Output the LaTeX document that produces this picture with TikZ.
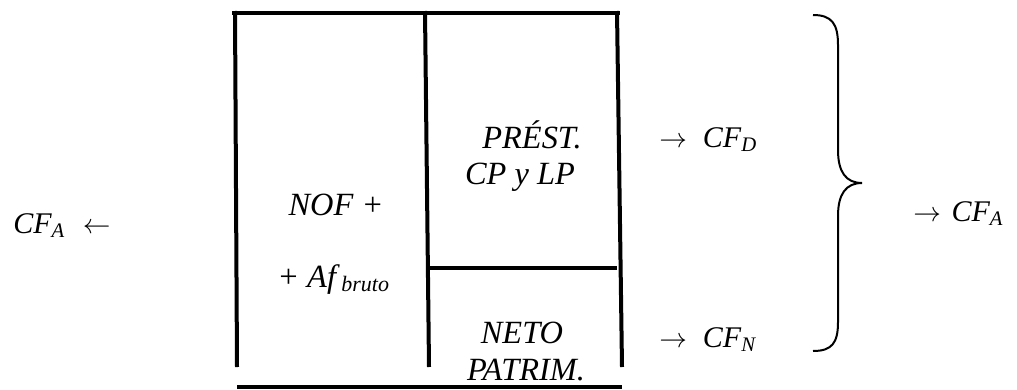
\documentclass[tikz,border=0pt]{standalone}
\usepackage{fontspec}
\setmainfont{Liberation Serif}[ItalicFont={Liberation Serif Italic}]
\newfontfamily\serifit{Liberation Serif Italic}
\newcommand{\mysub}[1]{\raisebox{-0.35ex}{\fontsize{15.5}{15.5}\selectfont #1}}
\newcommand{\mybsub}[1]{\raisebox{-0.3ex}{\fontsize{16.5}{16.5}\selectfont #1}}
\tikzset{
  lbl/.style={inner sep=0pt, anchor=base, font=\serifit\fontsize{22.5}{26}\selectfont},
  lblw/.style={lbl, anchor=base west},
  boxlbl/.style={lbl, font=\serifit\fontsize{24.3}{28}\selectfont},
  boxlblw/.style={boxlbl, anchor=base west},
  wall/.style={line width=3pt, line cap=butt},
  bracepath/.style={line width=1.5pt}
}
\begin{document}
\begin{tikzpicture}[x=0.75pt,y=-0.75pt]
\useasboundingbox (0,0) rectangle (1017,389);
% box lines
\draw[wall] (232,13) -- (620,13);
\draw[wall] (235,11) -- (237,367);
\draw[wall] (425,11) -- (429,367);
\draw[wall] (617,11) -- (622,367);
\draw[wall] (426,268) -- (617,268);
\draw[wall] (237,386.5) -- (622,386.5);
% labels inside
\node[boxlbl] (prest) at (532,148) {PRÉST.};
\node[boxlbl] (cp) at (520,184) {CP y LP};
\node[boxlbl] (nof) at (336,215) {NOF +};
\node[boxlblw] (af) at (277,287) {+ Af\,\mybsub{bruto}};
\node[boxlbl] (neto) at (522,343) {NETO};
\node[boxlbl] (patrim) at (526,380) {PATRIM.};
% arrows and CF labels
\node[lblw] (cfd) at (659,147) {$\rightarrow$\hspace{12pt}CF\mysub{D}};
\node[lblw] (cfn) at (659,347) {$\rightarrow$\hspace{12pt}CF\mysub{N}};
\node[lblw] (cfr) at (913,221) {$\rightarrow$\hspace{8pt}CF\mysub{A}};
\node[lblw] (cfl) at (13,233) {CF\mysub{A}\hspace{14pt}$\leftarrow$};
% brace
\draw[bracepath] (813,15) .. controls (832,15) and (838,24) .. (838,45)
  -- (838,150) .. controls (838,172) and (846,183) .. (862,183)
  .. controls (846,183) and (838,194) .. (838,216)
  -- (838,322) .. controls (838,343) and (832,351) .. (813,351);
\end{tikzpicture}
\end{document}
